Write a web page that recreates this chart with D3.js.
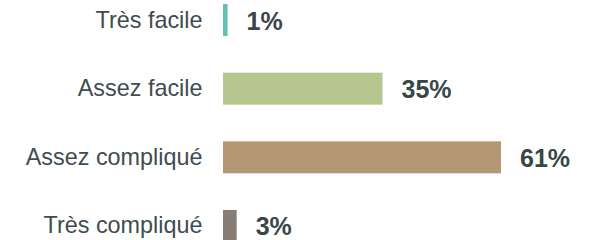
<!DOCTYPE html>
<html>
<head>
<meta charset="utf-8">
<script src="https://cdn.jsdelivr.net/npm/d3@7"></script>
<style>
  body { margin: 0; background: #fff; }
  text { font-family: "Liberation Sans", Arial, sans-serif; }
</style>
</head>
<body>
<div id="chart"></div>
<script>
// data
var categories = ["Très facile", "Assez facile", "Assez compliqué", "Très compliqué"];
var values = [1, 35, 61, 3];
var colors = ["#62bfb4", "#b7c58f", "#b39774", "#877d75"];

var width = 593, height = 240;

var svg = d3.select("#chart")
  .append("svg")
    .attr("width", width)
    .attr("height", height);

var data = categories.map(function (c, i) {
  return {cat: c, value: values[i], color: colors[i]};
});

var x = d3.scaleLinear()
  .domain([0, 61])
  .range([223, 501]);

var y = d3.scaleBand()
  .domain(categories)
  .range([-14.3, 260.3])
  .paddingInner(0.534)
  .paddingOuter(0.267);

//// bars
svg.selectAll(".bar")
  .data(data)
  .enter()
  .append("rect")
    .attr("class", "bar")
    .attr("x", x(0))
    .attr("y", function (d) { return y(d.cat); })
    .attr("width", function (d) { return x(d.value) - x(0); })
    .attr("height", y.bandwidth())
    .attr("fill", function (d) { return d.color; });

//// category labels
svg.selectAll(".cat")
  .data(data)
  .enter()
  .append("text")
    .attr("class", "cat")
    .attr("x", 202.5)
    .attr("y", function (d) { return y(d.cat) + y.bandwidth() / 2 + 7.5; })
    .attr("text-anchor", "end")
    .attr("font-size", "23.4px")
    .attr("fill", "#414c51")
    .text(function (d) { return d.cat; });

//// value labels
svg.selectAll(".val")
  .data(data)
  .enter()
  .append("text")
    .attr("class", "val")
    .attr("x", function (d) { return x(d.value) + 19; })
    .attr("y", function (d) { return y(d.cat) + y.bandwidth() / 2 + 9.5; })
    .attr("font-size", "25px")
    .attr("font-weight", "bold")
    .attr("fill", "#384649")
    .text(function (d) { return d.value + "%"; });
</script>
</body>
</html>
